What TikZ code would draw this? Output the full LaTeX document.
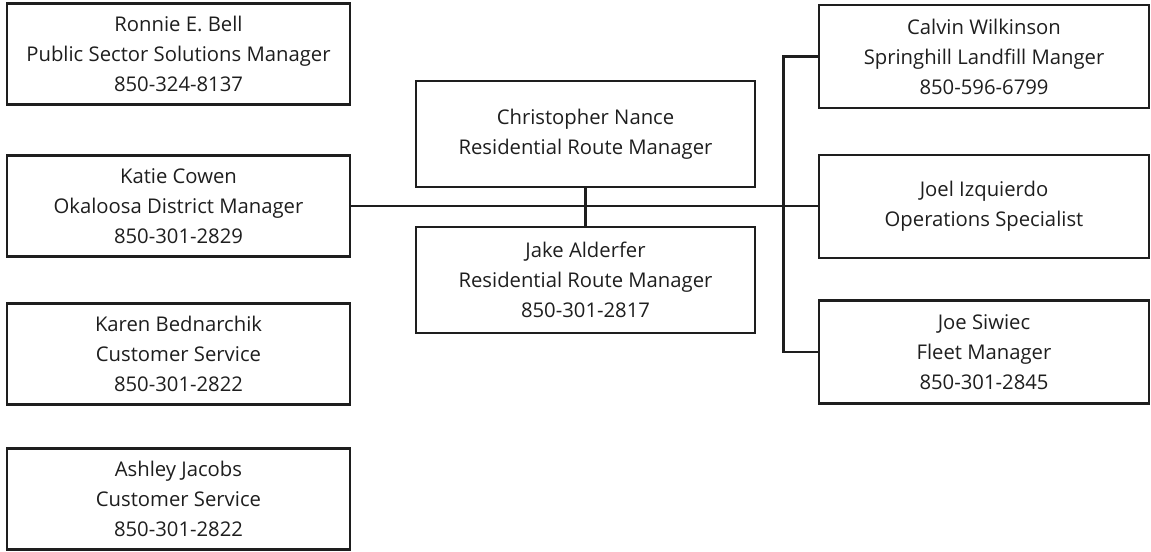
\documentclass[tikz,border=0pt]{standalone}
\usepackage{fontspec}
\setmainfont{Open Sans}
\usetikzlibrary{positioning,calc}
\definecolor{ink}{RGB}{30,30,30}
\tikzset{
  card/.style={draw=ink,line width=1.9pt,rectangle,align=center,
    minimum width=#1*0.75pt,minimum height=101*0.75pt,inner sep=0pt,
    font=\fontsize{15.2}{22.5}\selectfont,text=ink},
  card/.default=343,
  wire/.style={draw=ink,line width=2.1pt}
}
\begin{document}
\begin{tikzpicture}[x=0.75pt,y=-0.75pt]
  \useasboundingbox (0,0) rectangle (1151,552);
  % left column
  \foreach \nm/\y/\txt in {ronnie/54/{Ronnie E. Bell\\Public Sector Solutions Manager\\850-324-8137},katie/206/{Katie Cowen\\Okaloosa District Manager\\850-301-2829},karen/354/{Karen Bednarchik\\Customer Service\\850-301-2822},ashley/499/{Ashley Jacobs\\Customer Service\\850-301-2822}}{
    \node[card] (\nm) at (178.5,\y) {\txt};
  }
  % middle
  \node[card=339,minimum height=106*0.75pt] (chris) at (585.5,134) {Christopher Nance\\Residential Route Manager};
  \node[card=339,minimum height=106*0.75pt] (jake) at (585.5,280) {Jake Alderfer\\Residential Route Manager\\850-301-2817};
  % right column
  \foreach \nm/\y/\txt in {calvin/56.5/{Calvin Wilkinson\\Springhill Landfill Manger\\850-596-6799},joel/206.5/{Joel Izquierdo\\Operations Specialist},joe/352/{Joe Siwiec\\Fleet Manager\\850-301-2845}}{
    \node[card=330,minimum height=103*0.75pt] (\nm) at (984,\y) {\txt};
  }
  % connectors
  \draw[wire] (katie.east) -- (katie.east -| joel.west);
  \draw[wire] (chris.south) -- (jake.north);
  \draw[wire] (calvin.west) -- ++(-34,0) |- (joe.west);
\end{tikzpicture}
\end{document}
